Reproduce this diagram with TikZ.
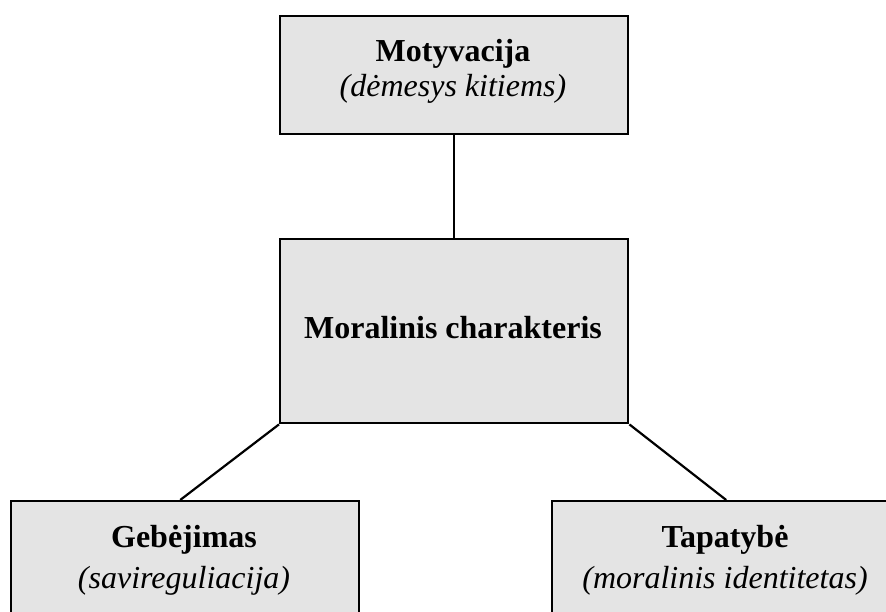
\documentclass[tikz,border=0pt]{standalone}
\usepackage{fontspec}
\setmainfont{Liberation Serif}
\definecolor{boxgray}{HTML}{E4E4E4}
\begin{document}
\begin{tikzpicture}[x=1pt,y=-1pt,
  box/.style={draw=black, line width=2.4pt, fill=boxgray, minimum width=348pt, inner sep=0pt, anchor=north west},
  ttl/.style={font=\fontsize{32}{38}\selectfont\bfseries, anchor=base, inner sep=0pt},
  sub/.style={font=\fontsize{32}{38}\selectfont\itshape, anchor=base, inner sep=0pt},
  link/.style={line width=2.2pt}]
\useasboundingbox (0,0) rectangle (886,612);
\clip (0,0) rectangle (886,612);
\node[box, minimum height=118pt] (top) at (279,15) {};
\node[box, minimum height=184pt] (mid) at (279,238) {};
\node[box, minimum height=160pt] (bl) at (10,500) {};
\node[box, minimum height=160pt] (br) at (551,500) {};
\node[ttl] (t1) at (453,62) {Motyvacija};
\node[sub] (s1) at (453,97) {(dėmesys kitiems)};
\node[ttl] (t2) at (453,338) {Moralinis charakteris};
\node[ttl] (t3) at (184,547) {Gebėjimas};
\node[sub] (s3) at (184,588) {(savireguliacija)};
\node[ttl] (t4) at (725,547) {Tapatybė};
\node[sub] (s4) at (725,588) {(moralinis identitetas)};
\draw[link] (top.south) -- (mid.north);
\draw[link] (mid.south west) -- ([xshift=-5pt]bl.north);
\draw[link] (mid.south east) -- (br.north);
\end{tikzpicture}
\end{document}
